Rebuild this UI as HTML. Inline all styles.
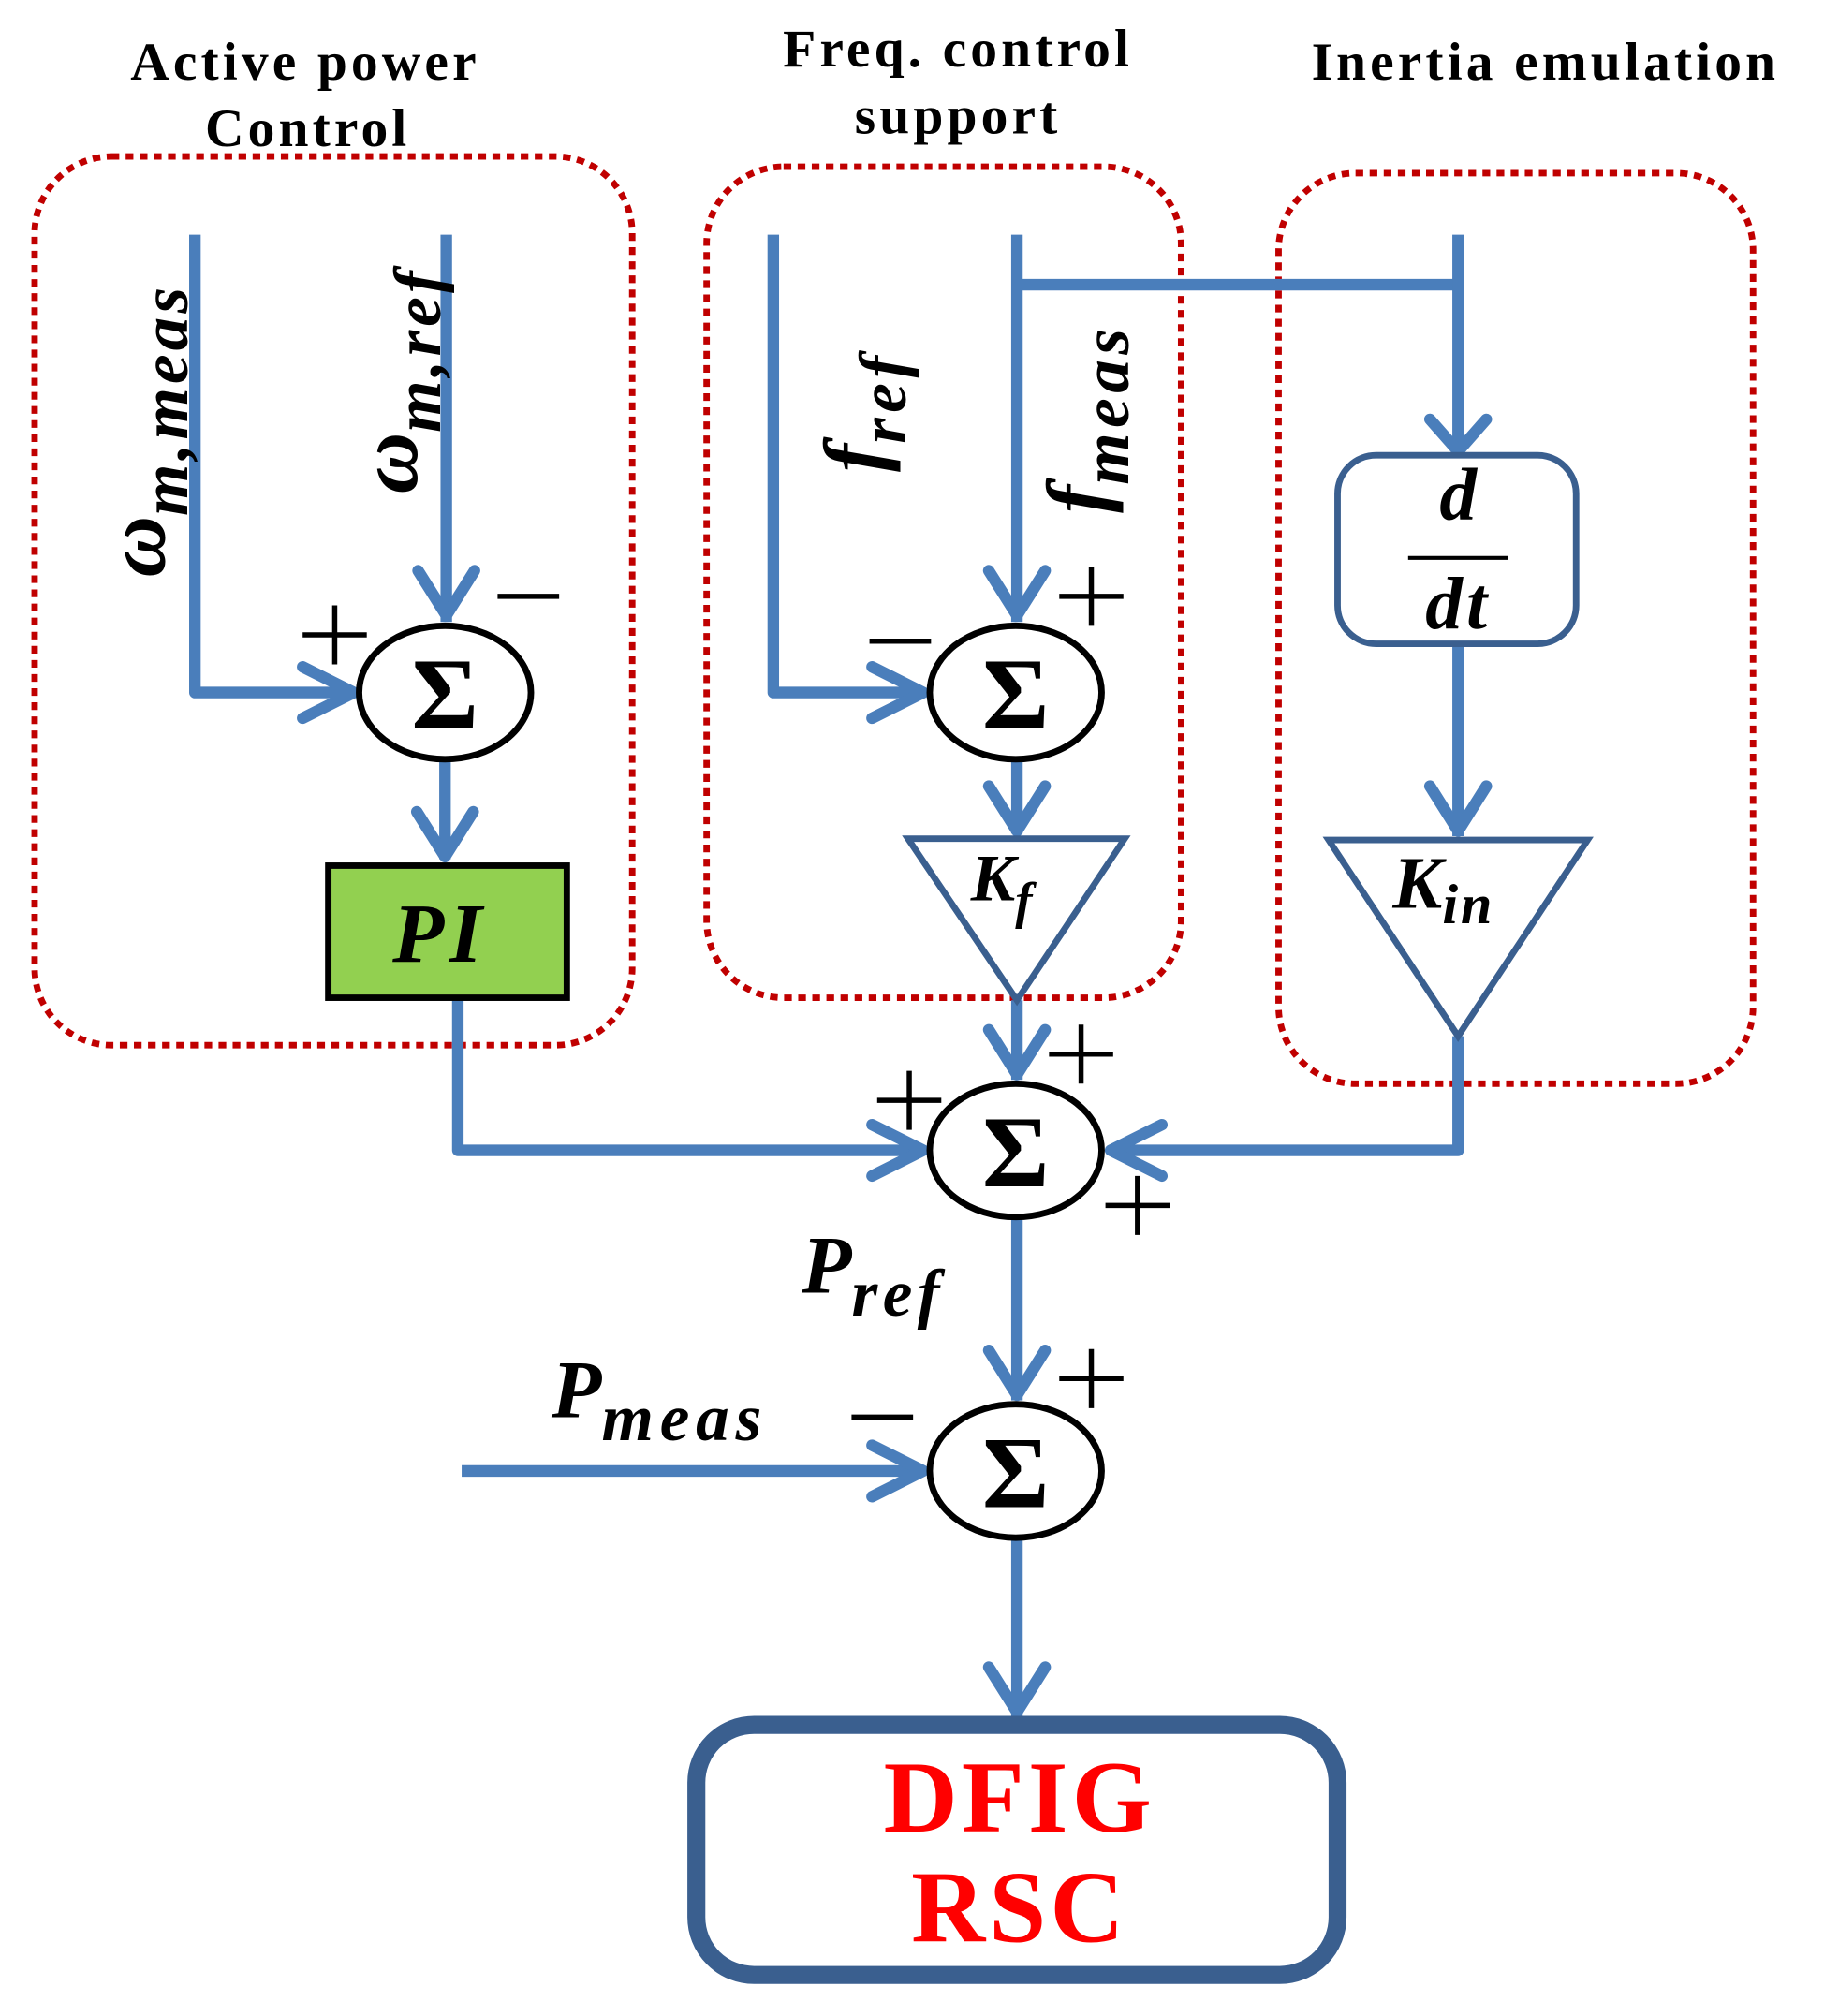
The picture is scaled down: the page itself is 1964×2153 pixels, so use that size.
<!DOCTYPE html>
<html><head><meta charset="utf-8"><style>html,body{margin:0;padding:0;background:#fff}svg{display:block}</style></head>
<body>
<svg width="1964" height="2153" viewBox="0 0 1434 1572" xmlns="http://www.w3.org/2000/svg">
<g font-family="Liberation Serif, serif" font-weight="bold" font-size="42" fill="#000" text-anchor="middle" letter-spacing="3">
<text x="238" y="62">Active power</text>
<text x="240" y="114">Control</text>
<text x="747" y="52">Freq. control</text>
<text x="747" y="104">support</text>
<text x="1205" y="62">Inertia emulation</text>
</g>
<g fill="none" stroke="#c00000" stroke-width="5" stroke-dasharray="6,5">
<rect x="27" y="122" width="466" height="693" rx="60"/>
<rect x="551" y="130" width="370" height="648" rx="60"/>
<rect x="997" y="135" width="370" height="710" rx="60"/>
</g>
<g fill="none" stroke="#4a7ebb" stroke-width="9" stroke-linejoin="round">
<polyline points="152,183 152,540 276,540"/>
<line x1="348" y1="183" x2="348" y2="485"/>
<line x1="347" y1="592" x2="347" y2="670"/>
<polyline points="357,778 357,897 718,897"/>
<polyline points="603,183 603,540 720,540"/>
<line x1="793" y1="183" x2="793" y2="485"/>
<line x1="793" y1="222" x2="1137" y2="222"/>
<line x1="1137" y1="183" x2="1137" y2="352"/>
<line x1="1137" y1="502" x2="1137" y2="652"/>
<line x1="793" y1="592" x2="793" y2="650"/>
<line x1="793" y1="780" x2="793" y2="842"/>
<polyline points="1137,808 1137,897 866,897"/>
<line x1="793" y1="950" x2="793" y2="1092"/>
<line x1="360" y1="1147" x2="720" y2="1147"/>
<line x1="793" y1="1200" x2="793" y2="1338"/>
</g>
<g fill="none" stroke="#4a7ebb" stroke-width="9" stroke-linecap="round" stroke-linejoin="round">
<polyline points="326,445 348,480 370,445"/>
<polyline points="236,520 276,540 236,560"/>
<polyline points="325,633 347,668 369,633"/>
<polyline points="680,520 720,540 680,560"/>
<polyline points="771,445 793,480 815,445"/>
<polyline points="1115,327 1137,352 1159,327"/>
<polyline points="771,613 793,648 815,613"/>
<polyline points="1115,613 1137,648 1159,613"/>
<polyline points="771,803 793,838 815,803"/>
<polyline points="680,877 720,897 680,917"/>
<polyline points="906,877 866,897 906,917"/>
<polyline points="771,1053 793,1088 815,1053"/>
<polyline points="680,1127 720,1147 680,1167"/>
<polyline points="771,1300 793,1335 815,1300"/>
</g>
<g fill="#fff" stroke="#000" stroke-width="5">
<ellipse cx="347" cy="540" rx="67" ry="52"/>
<ellipse cx="792" cy="540" rx="67" ry="52"/>
<ellipse cx="792" cy="897" rx="67" ry="52"/>
<ellipse cx="792" cy="1147" rx="67" ry="52"/>
</g>
<g font-family="Liberation Serif, serif" font-weight="bold" font-size="80" text-anchor="middle">
<text x="347" y="568">Σ</text><text x="792" y="568">Σ</text><text x="792" y="925">Σ</text><text x="792" y="1175">Σ</text>
</g>
<rect x="256" y="675" width="186" height="103" fill="#92d050" stroke="#000" stroke-width="5"/>
<text x="343" y="750" font-family="Liberation Serif, serif" font-weight="bold" font-style="italic" font-size="66" text-anchor="middle" letter-spacing="4">PI</text>
<g fill="#fff" stroke="#3a5f8f" stroke-width="5">
<rect x="1043" y="355" width="186" height="147" rx="30"/>
<polygon points="708,654 877,654 793,780"/>
<polygon points="1036,655 1238,655 1137,808"/>
</g>
<g font-family="Liberation Serif, serif" font-weight="bold" font-style="italic" fill="#000">
<text x="1137" y="405" font-size="58" text-anchor="middle">d</text>
<line x1="1098" y1="435" x2="1176" y2="435" stroke="#000" stroke-width="3"/>
<text x="1137" y="490" font-size="58" text-anchor="middle" letter-spacing="3">dt</text>
<text x="757" y="702" font-size="52">K<tspan font-size="40" dy="14">f</tspan></text>
<text x="1086" y="708" font-size="58">K<tspan font-size="44" dy="12" letter-spacing="2">in</tspan></text>
<text x="625" y="1008" font-size="64">P<tspan font-size="52" dy="18" letter-spacing="4">ref</tspan></text>
<text x="430" y="1105" font-size="64">P<tspan font-size="52" dy="18" letter-spacing="5">meas</tspan></text>
<text transform="translate(128,450) rotate(-90)" font-size="66">ω<tspan font-size="52" dy="18" letter-spacing="3">m,meas</tspan></text>
<text transform="translate(325,385) rotate(-90)" font-size="66">ω<tspan font-size="52" dy="18" letter-spacing="3">m,ref</tspan></text>
<text transform="translate(688,368) rotate(-90)" font-size="66">f<tspan font-size="52" dy="18" letter-spacing="4">ref</tspan></text>
<text transform="translate(862,400) rotate(-90)" font-size="66">f<tspan font-size="52" dy="18" letter-spacing="4">meas</tspan></text>
</g>
<g stroke="#000" stroke-width="4">
<path d="M236,495 h50 M261,472 v46"/>
<path d="M388,465 h48"/>
<path d="M678,500 h48"/>
<path d="M826,465 h50 M851,442 v46"/>
<path d="M818,822 h50 M843,799 v46"/>
<path d="M684,858 h50 M709,835 v46"/>
<path d="M862,940 h50 M887,917 v46"/>
<path d="M826,1075 h50 M851,1052 v46"/>
<path d="M664,1105 h48"/>
</g>
<rect x="543" y="1345" width="500" height="195" rx="45" fill="#fff" stroke="#3a5f8f" stroke-width="14"/>
<g font-family="Liberation Serif, serif" font-weight="bold" font-size="80" fill="#ff0000" text-anchor="middle" letter-spacing="3">
<text x="795" y="1428">DFIG</text>
<text x="795" y="1514">RSC</text>
</g>
</svg>
</body></html>
